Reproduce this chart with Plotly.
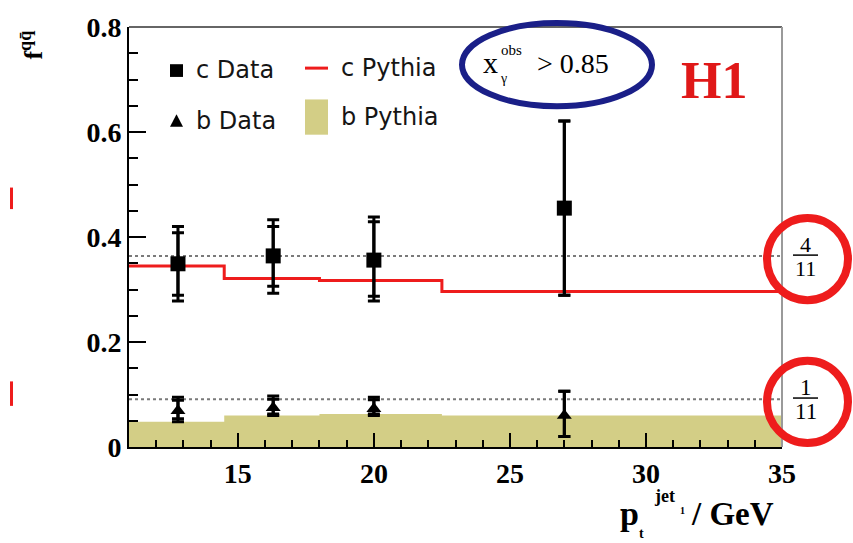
import numpy as np
import plotly.graph_objects as go

# ---- data -------------------------------------------------------------
pt_jet = [12.8, 16.3, 20.0, 27.0]

c_frac = [0.349, 0.364, 0.356, 0.455]
c_tot_hi = [0.420, 0.433, 0.438, 0.621]
c_stat_hi = [0.408, 0.420, 0.429, 0.621]
c_stat_lo = [0.289, 0.306, 0.287, 0.289]
c_tot_lo = [0.278, 0.293, 0.278, 0.289]

b_frac = [0.069, 0.075, 0.073, 0.060]
b_tot_hi = [0.095, 0.097, 0.095, 0.106]
b_stat_hi = [0.089, 0.091, 0.090, 0.106]
b_stat_lo = [0.054, 0.063, 0.063, 0.020]
b_tot_lo = [0.048, 0.060, 0.060, 0.020]

bin_edges = [11.0, 14.5, 18.0, 22.5, 35.0]
c_pythia = [0.345, 0.321, 0.317, 0.296]
b_pythia = [0.048, 0.060, 0.063, 0.060]

charge_c = 4 / 11
charge_b = 1 / 11

x_ticks = [15, 20, 25, 30, 35]
y_ticks = [0, 0.2, 0.4, 0.6, 0.8]
y_tick_text = ["0", "0.2", "0.4", "0.6", "0.8"]

# ---- canvas geometry --------------------------------------------------
W, H = 853, 543
L, R, T, B = 129, 71, 18, 96
PW, PH = W - L - R, H - T - B


def fx(px):
    return (px - L) / PW


def fy(py):
    return (H - B - py) / PH


SERIF = "Liberation Serif"
SANS = "DejaVu Sans"
OLIVE = "#d3ce86"
RED = "#ee1c1c"
NAVY = "#1a1f88"

fig = go.Figure()

# b Pythia: filled histogram
fig.add_trace(go.Scatter(
    x=bin_edges, y=b_pythia + [b_pythia[-1]], mode="lines",
    line=dict(shape="hv", width=0, color=OLIVE),
    fill="tozeroy", fillcolor=OLIVE, hoverinfo="skip", showlegend=False))

# charge-squared reference lines
for v in (charge_c, charge_b):
    fig.add_trace(go.Scatter(
        x=[bin_edges[0], bin_edges[-1]], y=[v, v], mode="lines",
        line=dict(color="#7a7a7a", width=2, dash="dot"),
        hoverinfo="skip", showlegend=False))

# c Pythia: step line
fig.add_trace(go.Scatter(
    x=bin_edges, y=c_pythia + [c_pythia[-1]], mode="lines",
    line=dict(shape="hv", width=3, color=RED),
    hoverinfo="skip", showlegend=False))


def err(vals, hi, lo):
    return dict(type="data", symmetric=False,
                array=list(np.array(hi) - np.array(vals)),
                arrayminus=list(np.array(vals) - np.array(lo)),
                color="black", thickness=3, width=6)


for vals, th, sh, sl, tl, sym, size in (
        (c_frac, c_tot_hi, c_stat_hi, c_stat_lo, c_tot_lo, "square", 15),
        (b_frac, b_tot_hi, b_stat_hi, b_stat_lo, b_tot_lo, "triangle-up", 13)):
    fig.add_trace(go.Scatter(
        x=pt_jet, y=vals, mode="markers",
        marker=dict(size=0.1, color="black", opacity=0),
        error_y=err(vals, sh, sl), showlegend=False, hoverinfo="skip"))
    fig.add_trace(go.Scatter(
        x=pt_jet, y=vals, mode="markers",
        marker=dict(symbol=sym, size=size, color="black"),
        error_y=err(vals, th, tl), showlegend=False))

shapes = []
annotations = []

# frame: top and right edges
shapes.append(dict(type="line", xref="paper", yref="paper", x0=0, x1=1, y0=1, y1=1,
                   line=dict(color="#666666", width=2)))
shapes.append(dict(type="line", xref="paper", yref="paper", x0=1, x1=1, y0=0, y1=1,
                   line=dict(color="#9a9a9a", width=2)))

# legend
shapes.append(dict(type="rect", xref="paper", yref="paper",
                   x0=fx(170), x1=fx(183), y0=fy(56), y1=fy(69),
                   fillcolor="black", line=dict(width=0)))
shapes.append(dict(type="path", xref="paper", yref="paper",
                   path=f"M {fx(170)} {fy(120)} L {fx(183)} {fy(120)} L {fx(176.5)} {fy(107)} Z",
                   fillcolor="black", line=dict(width=0)))
shapes.append(dict(type="line", xref="paper", yref="paper",
                   x0=fx(305), x1=fx(328), y0=fy(60), y1=fy(60),
                   line=dict(color=RED, width=3)))
shapes.append(dict(type="rect", xref="paper", yref="paper",
                   x0=fx(305), x1=fx(328), y0=fy(92), y1=fy(128),
                   fillcolor=OLIVE, line=dict(width=0)))
for txt, x, y in (("c Data", 194, 62), ("b Data", 194, 114),
                  ("c Pythia", 339, 60), ("b Pythia", 339, 110)):
    annotations.append(dict(text=txt, xref="paper", yref="paper", x=fx(x), y=fy(y),
                            xanchor="left", yanchor="middle", showarrow=False,
                            font=dict(family=SANS, size=24, color="#151515")))

# x_gamma cut, circled
shapes.append(dict(type="circle", xref="paper", yref="paper",
                   x0=fx(462), x1=fx(652), y0=fy(14), y1=fy(99),
                   line=dict(color=NAVY, width=6)))
annotations += [
    dict(text="x", x=fx(490), y=fy(54), font=dict(family=SERIF, size=30, color="black")),
    dict(text="obs", x=fx(511), y=fy(42), font=dict(family=SERIF, size=15, color="black")),
    dict(text="γ", x=fx(503), y=fy(71), font=dict(family=SERIF, size=14, color="black")),
    dict(text="&gt; 0.85", x=fx(573), y=fy(55), font=dict(family=SERIF, size=28, color="black")),
]

# H1 label
annotations.append(dict(text="<b>H1</b>", x=fx(714), y=fy(73),
                        font=dict(family=SERIF, size=52, color="#e01818")))

# circled quark charge fractions
for num, cy, fs in (("4", 255, 22), ("1", 401, 23)):
    shapes.append(dict(type="circle", xref="paper", yref="paper",
                       x0=fx(767), x1=fx(848), y0=fy(cy - 42), y1=fy(cy + 42),
                       line=dict(color=RED, width=8)))
    shapes.append(dict(type="line", xref="paper", yref="paper",
                       x0=fx(793), x1=fx(818), y0=fy(cy - 4), y1=fy(cy - 4),
                       line=dict(color="black", width=1.5)))
    annotations.append(dict(text=num, x=fx(805.5), y=fy(cy - 15),
                            font=dict(family=SERIF, size=fs, color="black")))
    annotations.append(dict(text="11", x=fx(805.5), y=fy(cy + 10),
                            font=dict(family=SERIF, size=fs, color="black")))

# clipped circle edges at the far left
for y0, y1 in ((182, 204), (380, 405)):
    shapes.append(dict(type="line", xref="paper", yref="paper",
                       x0=fx(11.5), x1=fx(11.5), y0=fy(y0), y1=fy(y1),
                       line=dict(color=RED, width=3)))

# axis titles
annotations.append(dict(text="<b>f<sup>qq\u0304</sup></b>", x=fx(32), y=fy(37),
                        textangle=-90,
                        font=dict(family=SERIF, size=26, color="black")))
annotations += [
    dict(text="<b>p</b>", x=fx(629), y=fy(515), font=dict(family=SERIF, size=34, color="black")),
    dict(text="<b>t</b>", x=fx(641), y=fy(535), font=dict(family=SERIF, size=14, color="black")),
    dict(text="<b>jet</b>", x=fx(664), y=fy(497), font=dict(family=SERIF, size=18, color="black")),
    dict(text="<b>1</b>", x=fx(682), y=fy(512), font=dict(family=SERIF, size=10, color="black")),
    dict(text="<b>/ GeV</b>", x=fx(732), y=fy(515), font=dict(family=SERIF, size=33, color="black")),
]

for a in annotations:
    a.setdefault("xref", "paper")
    a.setdefault("yref", "paper")
    a.setdefault("showarrow", False)
    a.setdefault("xanchor", "center")
    a.setdefault("yanchor", "middle")

fig.update_layout(
    width=W, height=H, autosize=False,
    margin=dict(l=L, r=R, t=T, b=B, pad=0),
    paper_bgcolor="white", plot_bgcolor="white",
    shapes=shapes, annotations=annotations, showlegend=False,
    xaxis=dict(range=[11, 35], tickvals=x_ticks,
               ticktext=[f"<b>{v}</b>" for v in x_ticks],
               ticks="inside", ticklen=14, tickwidth=2, tickcolor="black",
               showline=True, linecolor="black", linewidth=2,
               showgrid=False, zeroline=False,
               minor=dict(dtick=1, tick0=0, ticks="inside", ticklen=7,
                          tickwidth=1.5, tickcolor="black", showgrid=False),
               tickfont=dict(family=SERIF, size=28, color="black")),
    yaxis=dict(range=[0, 0.8], tickvals=y_ticks,
               ticktext=[f"<b>{t}</b>" for t in y_tick_text],
               ticks="inside", ticklen=17, tickwidth=2, tickcolor="black",
               showline=True, linecolor="black", linewidth=2,
               showgrid=False, zeroline=False,
               minor=dict(dtick=0.05, tick0=0, ticks="inside", ticklen=9,
                          tickwidth=1.5, tickcolor="black", showgrid=False),
               tickfont=dict(family=SERIF, size=28, color="black")),
)

fig.write_html("out.html")
